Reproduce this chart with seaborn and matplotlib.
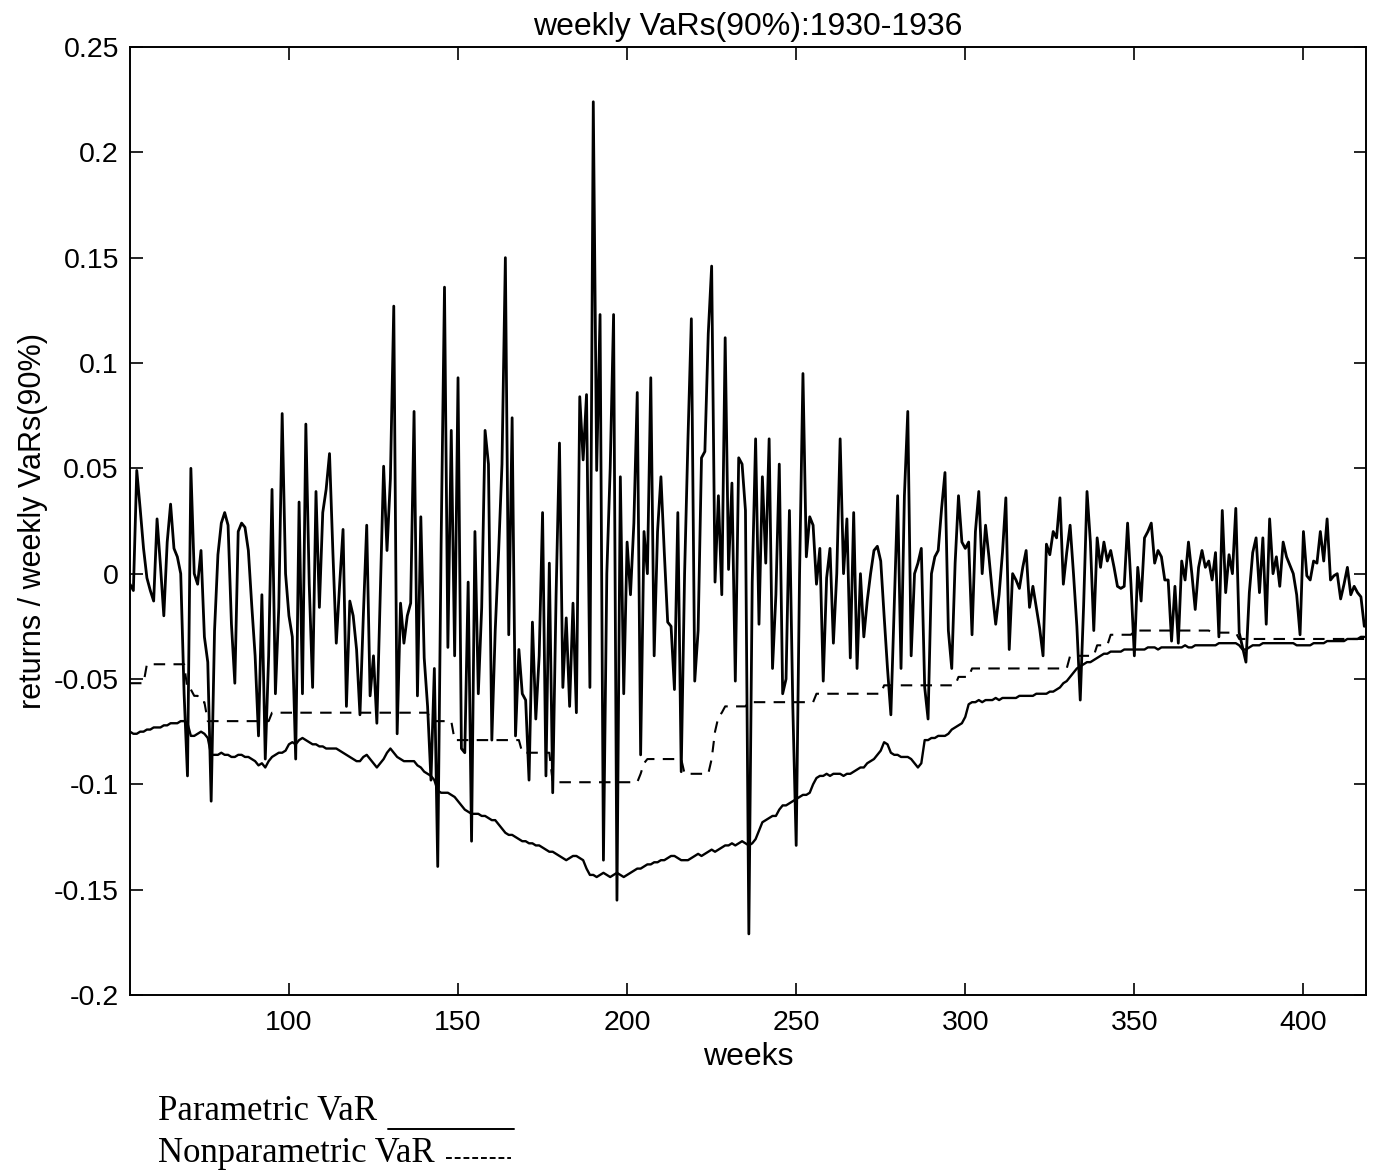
import numpy as np
import matplotlib
matplotlib.use("Agg")
import matplotlib.pyplot as plt
from matplotlib.lines import Line2D
from matplotlib.ticker import FuncFormatter, MultipleLocator
import seaborn as sns

# Weekly returns, weeks 53..418
returns = [
    -0.005, -0.008, 0.049, 0.031, 0.012, -0.002, -0.008, -0.013, 0.026, 0.004,
    -0.020, 0.015, 0.033, 0.012, 0.008, 0.000, -0.057, -0.096, 0.050, 0.000,
    -0.005, 0.011, -0.030, -0.042, -0.108, -0.027, 0.009, 0.024, 0.029, 0.023,
    -0.024, -0.052, 0.020, 0.024, 0.022, 0.011, -0.015, -0.039, -0.077, -0.010,
    -0.088, -0.039, 0.040, -0.057, -0.016, 0.076, 0.000, -0.020, -0.030, -0.088,
    0.034, -0.057, 0.071, -0.005, -0.054, 0.039, -0.016, 0.029, 0.040, 0.057,
    0.010, -0.033, -0.005, 0.021, -0.063, -0.013, -0.020, -0.036, -0.067, -0.020,
    0.023, -0.058, -0.039, -0.071, -0.010, 0.051, 0.011, 0.045, 0.127, -0.076,
    -0.014, -0.033, -0.020, -0.014, 0.077, -0.058, 0.027, -0.040, -0.063, -0.098,
    -0.045, -0.139, 0.014, 0.136, -0.035, 0.068, -0.039, 0.093, -0.083, -0.085,
    -0.004, -0.127, 0.020, -0.057, -0.016, 0.068, 0.052, -0.079, -0.027, 0.010,
    0.052, 0.150, -0.029, 0.074, -0.077, -0.036, -0.057, -0.060, -0.098, -0.023,
    -0.069, -0.039, 0.029, -0.096, 0.005, -0.104, -0.010, 0.062, -0.054, -0.021,
    -0.063, -0.014, -0.066, 0.084, 0.054, 0.085, -0.054, 0.224, 0.049, 0.123,
    -0.136, 0.000, 0.050, 0.123, -0.155, 0.046, -0.057, 0.015, -0.010, 0.024,
    0.086, -0.086, 0.020, 0.000, 0.093, -0.039, 0.020, 0.046, 0.010, -0.023,
    -0.025, -0.055, 0.029, -0.094, 0.000, 0.064, 0.121, -0.051, -0.027, 0.055,
    0.058, 0.114, 0.146, -0.004, 0.037, -0.010, 0.112, 0.002, 0.043, -0.051,
    0.055, 0.052, 0.030, -0.171, -0.004, 0.064, -0.024, 0.046, 0.005, 0.064,
    -0.045, -0.010, 0.052, -0.057, -0.050, 0.030, -0.063, -0.129, 0.000, 0.095,
    0.008, 0.027, 0.023, -0.005, 0.012, -0.051, -0.002, 0.012, -0.033, 0.000,
    0.064, 0.000, 0.026, -0.040, 0.029, -0.045, 0.000, -0.030, -0.013, 0.000,
    0.011, 0.013, 0.006, -0.020, -0.045, -0.067, -0.015, 0.037, -0.045, 0.037,
    0.077, -0.039, 0.000, 0.005, 0.012, -0.054, -0.069, 0.000, 0.008, 0.011,
    0.031, 0.048, -0.027, -0.045, 0.005, 0.037, 0.015, 0.012, 0.015, -0.029,
    0.020, 0.039, 0.000, 0.023, 0.008, -0.009, -0.024, -0.010, 0.010, 0.036,
    -0.036, 0.000, -0.003, -0.007, 0.003, 0.011, -0.016, -0.006, -0.016, -0.026,
    -0.039, 0.014, 0.009, 0.020, 0.017, 0.036, -0.005, 0.010, 0.023, 0.000,
    -0.025, -0.060, -0.015, 0.039, 0.015, -0.027, 0.017, 0.003, 0.015, 0.006,
    0.011, 0.003, -0.006, -0.007, -0.006, 0.024, -0.005, -0.039, 0.003, -0.013,
    0.017, 0.020, 0.024, 0.005, 0.011, 0.008, -0.003, -0.003, -0.032, -0.006,
    -0.033, 0.006, -0.003, 0.015, 0.000, -0.017, 0.003, 0.011, 0.003, 0.006,
    -0.003, 0.010, -0.030, 0.030, -0.009, 0.009, 0.000, 0.031, -0.028, -0.035,
    -0.042, -0.009, 0.010, 0.017, -0.009, 0.017, -0.024, 0.026, 0.000, 0.008,
    -0.006, 0.015, 0.008, 0.004, 0.000, -0.010, -0.029, 0.020, -0.001, -0.003,
    0.006, 0.005, 0.020, 0.006, 0.026, -0.003, -0.001, 0.000, -0.012, -0.005,
    0.003, -0.010, -0.006, -0.009, -0.011, -0.025,
]

# Parametric VaR (90%), weeks 53..418
param_var = [
    -0.075, -0.076, -0.076, -0.075, -0.075, -0.074, -0.074, -0.073, -0.073, -0.073,
    -0.072, -0.072, -0.071, -0.071, -0.071, -0.070, -0.070, -0.071, -0.077, -0.077,
    -0.076, -0.075, -0.076, -0.078, -0.086, -0.086, -0.086, -0.085, -0.086, -0.086,
    -0.087, -0.087, -0.086, -0.086, -0.087, -0.087, -0.088, -0.089, -0.091, -0.090,
    -0.092, -0.089, -0.087, -0.086, -0.085, -0.085, -0.084, -0.081, -0.080, -0.081,
    -0.079, -0.078, -0.079, -0.080, -0.081, -0.081, -0.082, -0.082, -0.083, -0.083,
    -0.083, -0.083, -0.084, -0.085, -0.086, -0.087, -0.088, -0.089, -0.089, -0.087,
    -0.086, -0.088, -0.090, -0.092, -0.090, -0.088, -0.085, -0.083, -0.085, -0.087,
    -0.088, -0.089, -0.089, -0.089, -0.089, -0.091, -0.092, -0.094, -0.095, -0.096,
    -0.098, -0.103, -0.104, -0.104, -0.104, -0.105, -0.106, -0.108, -0.110, -0.112,
    -0.113, -0.114, -0.114, -0.114, -0.115, -0.115, -0.116, -0.117, -0.117, -0.119,
    -0.121, -0.123, -0.124, -0.124, -0.125, -0.126, -0.127, -0.127, -0.128, -0.128,
    -0.129, -0.129, -0.130, -0.131, -0.132, -0.132, -0.133, -0.134, -0.135, -0.136,
    -0.135, -0.134, -0.134, -0.135, -0.136, -0.140, -0.143, -0.143, -0.144, -0.143,
    -0.142, -0.143, -0.144, -0.143, -0.142, -0.143, -0.144, -0.143, -0.142, -0.141,
    -0.140, -0.140, -0.139, -0.138, -0.138, -0.137, -0.137, -0.136, -0.136, -0.135,
    -0.134, -0.134, -0.135, -0.136, -0.136, -0.136, -0.135, -0.134, -0.133, -0.134,
    -0.133, -0.132, -0.131, -0.132, -0.131, -0.130, -0.129, -0.129, -0.128, -0.129,
    -0.128, -0.127, -0.128, -0.129, -0.128, -0.126, -0.122, -0.118, -0.117, -0.116,
    -0.115, -0.115, -0.112, -0.110, -0.110, -0.109, -0.108, -0.107, -0.106, -0.105,
    -0.105, -0.104, -0.100, -0.097, -0.096, -0.096, -0.095, -0.096, -0.095, -0.095,
    -0.095, -0.096, -0.095, -0.095, -0.094, -0.093, -0.092, -0.092, -0.090, -0.089,
    -0.088, -0.086, -0.084, -0.080, -0.081, -0.085, -0.086, -0.086, -0.087, -0.087,
    -0.087, -0.088, -0.090, -0.092, -0.090, -0.079, -0.079, -0.078, -0.078, -0.077,
    -0.077, -0.077, -0.076, -0.074, -0.073, -0.072, -0.071, -0.068, -0.062, -0.061,
    -0.061, -0.060, -0.061, -0.060, -0.060, -0.060, -0.059, -0.060, -0.059, -0.059,
    -0.059, -0.059, -0.059, -0.058, -0.058, -0.058, -0.058, -0.058, -0.057, -0.057,
    -0.057, -0.057, -0.056, -0.056, -0.055, -0.054, -0.052, -0.051, -0.049, -0.047,
    -0.045, -0.044, -0.043, -0.042, -0.042, -0.041, -0.040, -0.039, -0.038, -0.038,
    -0.037, -0.037, -0.037, -0.037, -0.036, -0.036, -0.036, -0.036, -0.036, -0.036,
    -0.036, -0.035, -0.035, -0.035, -0.036, -0.035, -0.035, -0.035, -0.035, -0.035,
    -0.035, -0.035, -0.034, -0.035, -0.035, -0.034, -0.034, -0.034, -0.034, -0.034,
    -0.034, -0.034, -0.033, -0.033, -0.033, -0.033, -0.033, -0.033, -0.034, -0.036,
    -0.036, -0.035, -0.034, -0.034, -0.034, -0.033, -0.033, -0.033, -0.033, -0.033,
    -0.033, -0.033, -0.033, -0.033, -0.033, -0.034, -0.034, -0.034, -0.034, -0.034,
    -0.033, -0.033, -0.033, -0.033, -0.032, -0.032, -0.032, -0.032, -0.032, -0.032,
    -0.031, -0.031, -0.031, -0.031, -0.030, -0.030,
]

# Nonparametric VaR (90%): empirical quantile held flat between updates,
# stored as (level, number of weeks) runs starting at week 53
nonparam_levels = [
    -0.052, -0.043, -0.055, -0.058, -0.061, -0.070, -0.066, -0.070, -0.079, -0.085,
    -0.099, -0.095, -0.090, -0.088, -0.095, -0.088, -0.075, -0.068, -0.066, -0.063,
    -0.061, -0.057, -0.053, -0.049, -0.045, -0.039, -0.034, -0.029, -0.027, -0.028,
    -0.031,
]
nonparam_runs = [
    5, 12, 2, 2, 2, 19, 47, 7, 20, 9,
    26, 1, 1, 11, 8, 1, 1, 1, 1, 7,
    20, 20, 22, 4, 29, 8, 4, 7, 23, 8,
    38,
]

first_week = 53
weeks = np.arange(first_week, first_week + len(returns))
nonparam_var = np.repeat(nonparam_levels, nonparam_runs)

x_ticks = [100, 150, 200, 250, 300, 350, 400]

sns.set_theme(style="ticks")
plt.rcParams["font.family"] = ["Liberation Sans", "DejaVu Sans"]
plt.rcParams["axes.unicode_minus"] = False
plt.rcParams["axes.linewidth"] = 1.4
plt.rcParams["axes.edgecolor"] = "black"

W, H = 1374, 1171
fig = plt.figure(figsize=(W / 100, H / 100), dpi=100)
fig.patch.set_facecolor("white")
ax = fig.add_axes([130 / W, 1 - 995 / H, (1366 - 130) / W, (995 - 47) / H])
ax.set_facecolor("white")

sns.lineplot(x=weeks, y=returns, ax=ax, color="black", linewidth=2.0,
             estimator=None, sort=False)
sns.lineplot(x=weeks, y=param_var, ax=ax, color="black", linewidth=1.7,
             estimator=None, sort=False)
sns.lineplot(x=weeks, y=nonparam_var, ax=ax, color="black", linewidth=1.5,
             linestyle=(0, (5.5, 4)), estimator=None, sort=False)

ax.set_xlim(53, 418.5)
ax.set_ylim(-0.2, 0.25)
ax.set_xticks(x_ticks)
ax.yaxis.set_major_locator(MultipleLocator(0.05))
ax.yaxis.set_major_formatter(FuncFormatter(lambda v, p: f"{round(v, 2) + 0.0:g}"))

for side in ["top", "right", "left", "bottom"]:
    ax.spines[side].set_visible(True)
    ax.spines[side].set_color("black")

ax.tick_params(axis="both", which="major", direction="in", length=9, width=1.2,
               top=True, right=True, labelsize=20.5, colors="black")
ax.tick_params(axis="x", pad=11)
ax.tick_params(axis="y", pad=8)

ax.set_title("weekly VaRs(90%):1930-1936", fontsize=23, pad=9, color="black")
ax.set_xlabel("weeks", fontsize=23, labelpad=4, color="black")
ax.set_ylabel("returns / weekly VaRs(90%)", fontsize=22, labelpad=4, color="black")

# Key underneath the plot
serif = ["Liberation Serif", "DejaVu Serif"]
fig.text(158 / W, 1 - 1120 / H, "Parametric VaR", family=serif, fontsize=25,
         va="baseline", ha="left", color="black")
fig.text(158 / W, 1 - 1162 / H, "Nonparametric VaR", family=serif, fontsize=25,
         va="baseline", ha="left", color="black")
fig.add_artist(Line2D([388 / W, 514 / W], [1 - 1129 / H] * 2,
                      transform=fig.transFigure, color="black", linewidth=1.4))
fig.add_artist(Line2D([446 / W, 511 / W], [1 - 1158 / H] * 2,
                      transform=fig.transFigure, color="black", linewidth=1.4,
                      linestyle=(0, (3, 1.5))))

fig.savefig("out.png", dpi=100, facecolor="white")
